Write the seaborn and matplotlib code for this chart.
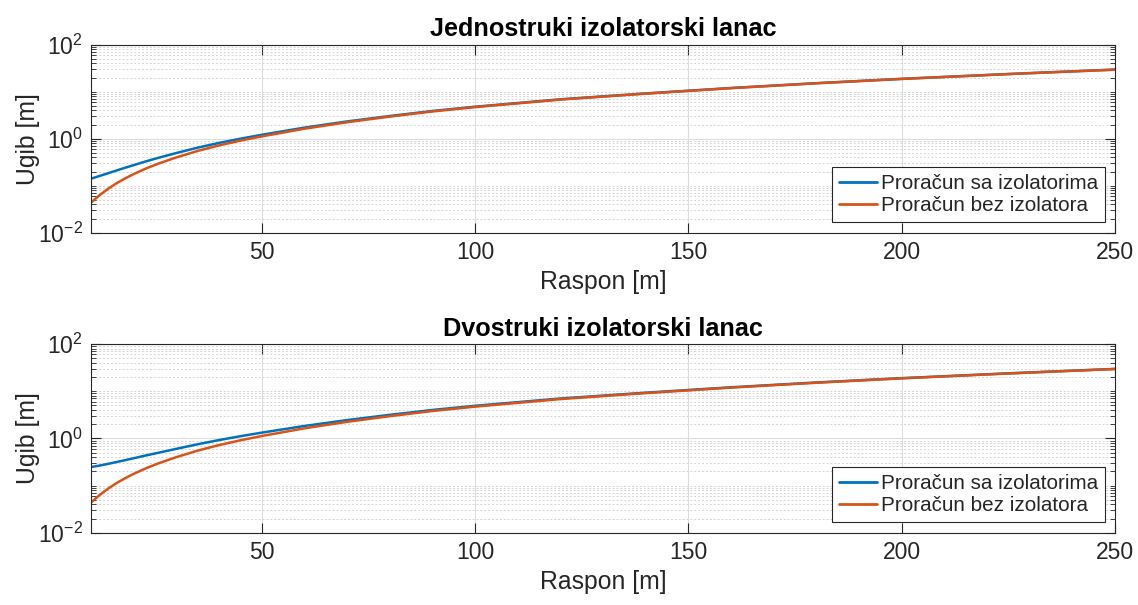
import matplotlib
matplotlib.use("Agg")
import matplotlib.pyplot as plt
import matplotlib.ticker as mticker
import seaborn as sns
import pandas as pd

# ---- data ----
raspon = [10, 12, 14, 16, 18, 20, 23, 26, 30, 35, 40, 45, 50, 60, 70, 80, 90,
          100, 120, 140, 160, 180, 200, 225, 250]

bez_izolatora = [0.0435, 0.063, 0.086, 0.113, 0.143, 0.177, 0.235, 0.30, 0.40,
                 0.55, 0.72, 0.91, 1.12, 1.63, 2.24, 2.95, 3.8, 4.7, 6.8, 9.1,
                 11.9, 15.1, 18.7, 23.7, 29.5]

sa_izolatorima_1 = [0.141, 0.161, 0.184, 0.211, 0.241, 0.274, 0.332, 0.397, 0.496,
                    0.645, 0.814, 1.00, 1.21, 1.72, 2.33, 3.04, 3.89, 4.79, 6.89,
                    9.19, 11.99, 15.19, 18.79, 23.79, 29.59]

sa_izolatorima_2 = [0.246, 0.265, 0.288, 0.315, 0.345, 0.379, 0.437, 0.50, 0.60,
                    0.75, 0.92, 1.11, 1.32, 1.83, 2.44, 3.15, 4.0, 4.9, 7.0, 9.3,
                    12.1, 15.3, 18.9, 23.9, 29.7]

titles = ["Jednostruki izolatorski lanac", "Dvostruki izolatorski lanac"]
labels = ["Proračun sa izolatorima", "Proračun bez izolatora"]
xticks = [50, 100, 150, 200, 250]
yticks = [1e-2, 1e0, 1e2]

sns.set_theme(style="white")
plt.rcParams["font.family"] = ["Liberation Sans", "DejaVu Sans"]
plt.rcParams["mathtext.fontset"] = "custom"
plt.rcParams["mathtext.rm"] = "Liberation Sans"
plt.rcParams["mathtext.it"] = "Liberation Sans:italic"
plt.rcParams["mathtext.bf"] = "Liberation Sans:bold"

C_BLUE = "#0072BD"
C_ORANGE = "#D95319"
AX_COL = "#262626"

fig = plt.figure(figsize=(11.38, 6.05), dpi=100)
rects = [[0.080, 0.6154, 0.900, 0.3107], [0.080, 0.1195, 0.900, 0.3119]]

for i, (rect, blue_vals) in enumerate(zip(rects, [sa_izolatorima_1, sa_izolatorima_2])):
    ax = fig.add_axes(rect)
    df = pd.DataFrame({
        "Raspon": raspon * 2,
        "Ugib": blue_vals + bez_izolatora,
        "Serija": [labels[0]] * len(raspon) + [labels[1]] * len(raspon),
    })
    sns.lineplot(data=df, x="Raspon", y="Ugib", hue="Serija",
                 palette=[C_BLUE, C_ORANGE], linewidth=1.8, ax=ax, sort=False)
    ax.set_yscale("log")
    ax.set_xlim(10, 250)
    ax.set_ylim(1e-2, 1e2)
    ax.set_xticks(xticks)
    ax.set_yticks(yticks)
    ax.yaxis.set_major_formatter(mticker.LogFormatterMathtext())
    ax.yaxis.set_minor_locator(mticker.LogLocator(base=10, subs=range(1, 10), numticks=20))
    ax.yaxis.set_minor_formatter(mticker.NullFormatter())

    ax.grid(which="major", axis="both", color="#dcdcdc", linestyle="-", linewidth=0.8)
    ax.grid(which="minor", axis="y", color="#d4d4d4", linestyle=(0, (2, 2)), linewidth=0.7)
    ax.set_axisbelow(True)

    for s in ax.spines.values():
        s.set_visible(True)
        s.set_color(AX_COL)
        s.set_linewidth(0.8)
    ax.tick_params(which="major", direction="in", length=7, width=0.8, color=AX_COL,
                   labelsize=16.5, labelcolor=AX_COL, top=True, right=True,
                   bottom=True, left=True, pad=6)
    ax.tick_params(which="minor", direction="in", length=3.5, width=0.6, color=AX_COL,
                   top=False, right=True, left=True, bottom=False)

    ax.set_title(titles[i], fontsize=18.2, fontweight="bold", color="black", pad=6)
    ax.set_xlabel("Raspon [m]", fontsize=17.8, color=AX_COL, labelpad=4)
    ax.set_ylabel("Ugib [m]", fontsize=17.8, color=AX_COL, labelpad=-1.5)

    leg = ax.legend(loc="lower right", fontsize=14.9, frameon=True, fancybox=False,
                    edgecolor=AX_COL, framealpha=1, handlelength=1.85,
                    handletextpad=0.15, labelspacing=0.15, borderpad=0.35,
                    borderaxespad=0.5, title=None)
    leg.get_frame().set_linewidth(0.8)
    for h in leg.get_lines():
        h.set_linewidth(2.0)

fig.savefig("out.png", dpi=100)
